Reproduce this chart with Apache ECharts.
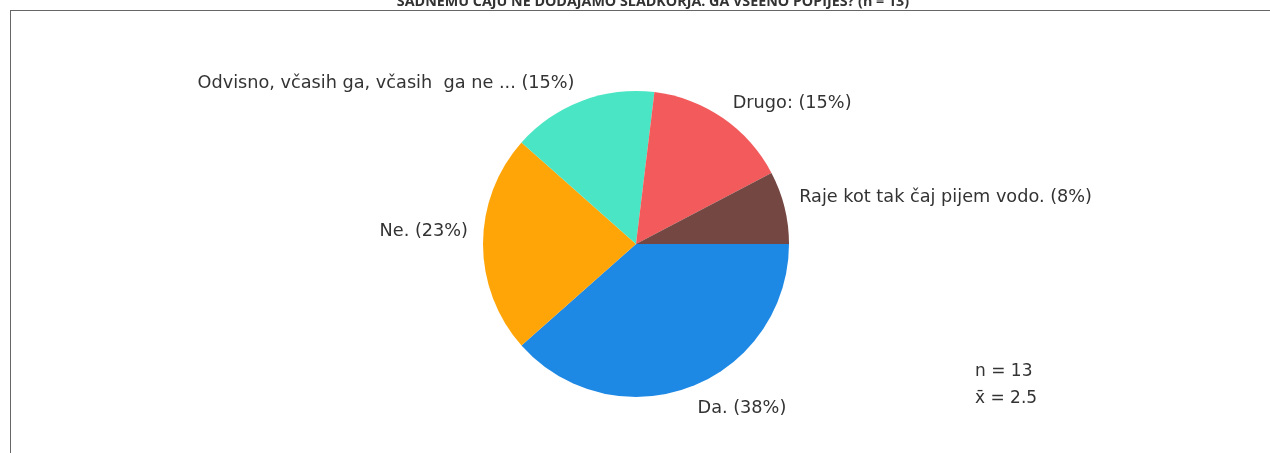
<!DOCTYPE html>
<html>
<head>
<meta charset="utf-8">
<script src="https://cdn.jsdelivr.net/npm/echarts@6/dist/echarts.min.js"></script>
<style>
  html, body { margin: 0; padding: 0; background: #fff; }
  #main { width: 1270px; height: 453px; }
</style>
</head>
<body>
<div id="main"></div>
<script>
// podatki (odgovori / stevilo)
var answers = ['Da.', 'Ne.', 'Odvisno, včasih ga, včasih  ga ne ...', 'Drugo:', 'Raje kot tak čaj pijem vodo.'];
var counts = [5, 3, 2, 2, 1];
var colors = ['#1e88e5', '#ffa508', '#4ae5c4', '#f25a5b', '#744743'];
var titleText = 'SADNEMU ČAJU NE DODAJAMO SLADKORJA. GA VSEENO POPIJEŠ? (n = 13)';
var nText = 'n = 13';
var meanText = 'x\u0304 = 2.5';
// majhni zamiki napisov (dx, dy)
var labelNudge = [[0, 10], [0, -13], [0, -6], [0, -5], [0, -7]];
var FONT = '"DejaVu Sans", sans-serif';

window.onload = function () {
    var Mychart = echarts.init(document.getElementById('main'), null, { renderer: 'canvas' });
    var data = answers.map(function (a, i) {
        return { name: a, value: counts[i], itemStyle: { color: colors[i] } };
    });
    var option = {
        animation: false,
        backgroundColor: '#fff',
        title: {
            text: titleText,
            left: 653,
            textAlign: 'center',
            top: -6,
            padding: 0,
            textStyle: {
                fontFamily: 'Open Sans',
                fontWeight: 'bold',
                fontSize: 14.3,
                lineHeight: 16,
                color: '#333'
            }
        },
        graphic: [
            { type: 'line', shape: { x1: 10, y1: 10.5, x2: 1270, y2: 10.5 }, style: { stroke: '#666', lineWidth: 1 } },
            { type: 'line', shape: { x1: 10.5, y1: 10, x2: 10.5, y2: 453 }, style: { stroke: '#666', lineWidth: 1 } },
            { type: 'text', left: 975, top: 363, style: { text: nText, fontFamily: FONT, fontSize: 17, fill: '#333' } },
            { type: 'text', left: 975, top: 390, style: { text: meanText, fontFamily: FONT, fontSize: 17, fill: '#333' } }
        ],
        series: [{
            type: 'pie',
            center: [636, 244],
            radius: 153,
            startAngle: 0,
            clockwise: true,
            avoidLabelOverlap: false,
            data: data,
            itemStyle: { borderWidth: 0 },
            label: {
                position: 'outside',
                distanceToLabelLine: 3,
                fontFamily: FONT,
                fontSize: 17.7,
                color: '#333',
                formatter: function (p) { return p.name + ' (' + Math.round(p.percent) + '%)'; }
            },
            labelLine: { show: false, length: 12, length2: 0 },
            labelLayout: function (p) {
                var n = labelNudge[p.dataIndex];
                return { dx: n[0], dy: n[1] };
            },
            emphasis: { disabled: true }
        }]
    };
    Mychart.setOption(option);
};
</script>
</body>
</html>
